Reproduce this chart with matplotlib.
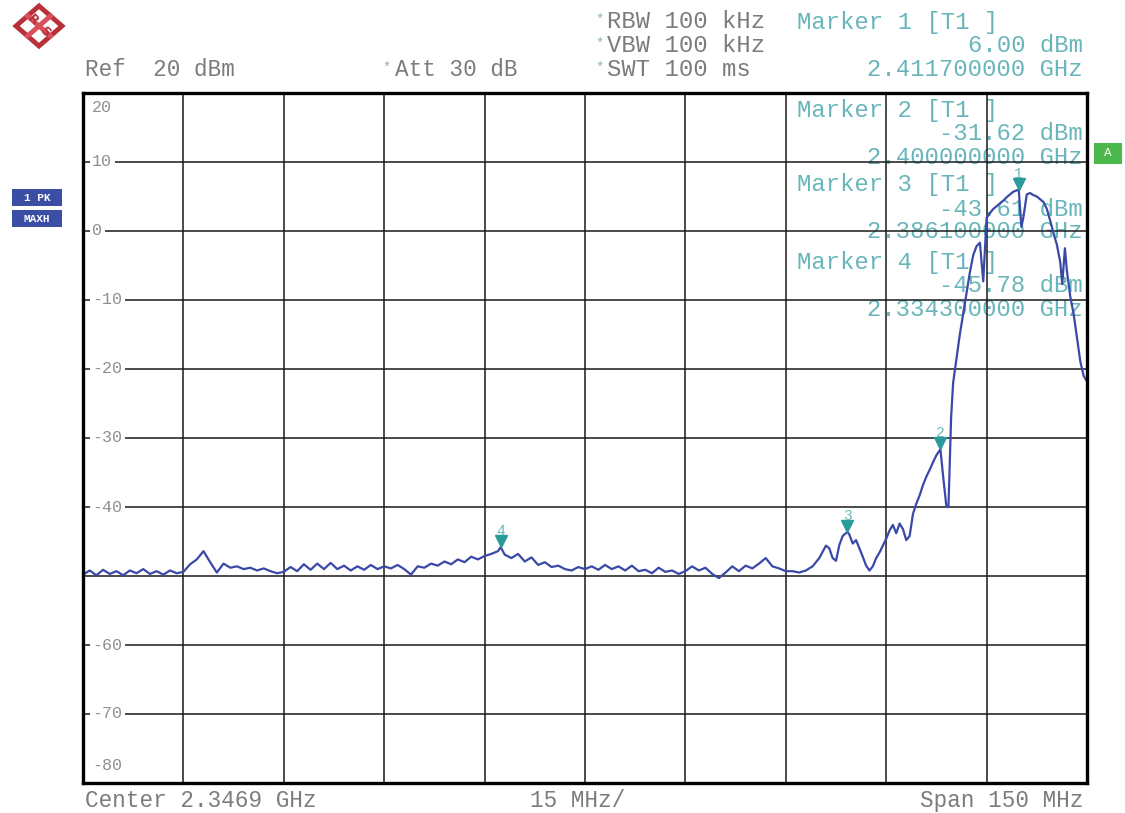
import matplotlib
matplotlib.use("Agg")
import matplotlib.pyplot as plt
import matplotlib.transforms as mtransforms
from matplotlib.patches import Rectangle, Polygon
import numpy as np

# ---------------- data ----------------
center_mhz = 2346.9
span_mhz = 150.0
ref_level = 20
y_labels = ["20", "10", "0", "-10", "-20", "-30", "-40", "-60", "-70", "-80"]
y_label_vals = [20, 10, 0, -10, -20, -30, -40, -60, -70, -80]

trace_mhz = [
    2271.9, 2272.9, 2273.9, 2274.9, 2275.9, 2276.9, 2277.9, 2278.9, 2279.9, 2280.9,
    2281.9, 2282.9, 2283.9, 2284.9, 2285.9, 2286.9, 2287.9, 2288.9, 2289.9, 2290.9,
    2291.9, 2292.9, 2293.9, 2294.9, 2295.9, 2296.9, 2297.9, 2298.9, 2299.9, 2300.9,
    2301.9, 2302.9, 2303.9, 2304.9, 2305.9, 2306.9, 2307.9, 2308.9, 2309.9, 2310.9,
    2311.9, 2312.9, 2313.9, 2314.9, 2315.9, 2316.9, 2317.9, 2318.9, 2319.9, 2320.9,
    2321.9, 2322.9, 2323.9, 2324.9, 2325.9, 2326.9, 2327.9, 2328.9, 2329.9, 2330.9,
    2331.9, 2332.9, 2333.9, 2334.3, 2334.9, 2335.9, 2336.9, 2337.9, 2338.9, 2339.9,
    2340.9, 2341.9, 2342.9, 2343.9, 2344.9, 2345.9, 2346.9, 2347.9, 2348.9, 2349.9,
    2350.9, 2351.9, 2352.9, 2353.9, 2354.9, 2355.9, 2356.9, 2357.9, 2358.9, 2359.9,
    2360.9, 2361.9, 2362.9, 2363.9, 2364.9, 2365.9, 2366.9, 2367.9, 2368.9, 2369.9,
    2370.9, 2371.9, 2372.9, 2373.9, 2374.9, 2375.9, 2376.9, 2377.9, 2378.9, 2379.9,
    2380.9, 2381.4, 2381.9, 2382.4, 2382.9, 2383.4, 2383.9, 2384.4, 2384.9, 2385.4,
    2386.1, 2386.4, 2386.9, 2387.4, 2387.9, 2388.4, 2388.9, 2389.4, 2389.9, 2390.4,
    2390.9, 2391.4, 2391.9, 2392.4, 2392.9, 2393.4, 2393.9, 2394.4, 2394.9, 2395.4,
    2395.9, 2396.4, 2396.9, 2397.4, 2397.9, 2398.4, 2398.9, 2399.4, 2400.0, 2400.4,
    2400.9, 2401.2, 2401.6, 2401.9, 2402.4, 2402.9, 2403.4, 2403.9, 2404.4, 2404.9,
    2405.4, 2405.9, 2406.4, 2406.9, 2407.4, 2407.9, 2408.4, 2408.9, 2409.4, 2409.9,
    2410.4, 2410.9, 2411.7, 2412.1, 2412.4, 2412.9, 2413.4, 2413.9, 2414.4, 2414.9,
    2415.4, 2415.9, 2416.4, 2416.9, 2417.4, 2417.9, 2418.2, 2418.6, 2418.9, 2419.4,
    2419.9, 2420.4, 2420.9, 2421.4, 2421.9,
]
trace_dbm = [
    -49.8, -49.2, -49.9, -49.1, -49.7, -49.3, -49.9, -49.2, -49.6, -49.0,
    -49.7, -49.3, -49.8, -49.2, -49.6, -49.4, -48.3, -47.6, -46.4, -48.0,
    -49.5, -48.2, -48.8, -48.6, -49.0, -48.8, -49.2, -48.9, -49.3, -49.6,
    -49.4, -48.7, -49.3, -48.3, -49.1, -48.2, -49.0, -48.1, -49.0, -48.5,
    -49.2, -48.6, -49.1, -48.4, -49.0, -48.6, -48.9, -48.4, -49.0, -49.8,
    -48.6, -48.8, -48.2, -48.5, -47.9, -48.3, -47.6, -48.0, -47.2, -47.6,
    -47.1, -46.8, -46.4, -45.8, -46.9, -47.4, -46.8, -47.9, -47.3, -48.4,
    -48.0, -48.7, -48.5, -49.0, -49.2, -48.7, -49.0, -48.6, -49.1, -48.4,
    -49.0, -48.6, -49.2, -48.5, -49.3, -49.1, -49.6, -48.8, -49.4, -49.2,
    -49.7, -49.3, -48.6, -49.2, -48.8, -49.7, -50.3, -49.5, -48.6, -49.3,
    -48.5, -48.9, -48.2, -47.4, -48.6, -48.9, -49.3, -49.3, -49.5, -49.2,
    -48.6, -48.0, -47.4, -46.5, -45.6, -46.0, -47.4, -47.8, -45.5, -44.2,
    -43.6, -44.0, -45.3, -44.8, -46.0, -47.2, -48.5, -49.2, -48.6, -47.4,
    -46.6, -45.6, -44.6, -43.4, -42.6, -43.8, -42.4, -43.2, -44.8, -44.2,
    -41.0, -39.5, -38.3, -36.8, -35.6, -34.6, -33.5, -32.5, -31.62, -35.5,
    -40.0, -40.0, -27.0, -22.0, -18.5, -15.0, -12.0, -9.0, -6.0, -3.5,
    -2.2, -1.7, -7.3, 1.9, 2.6, 3.2, 3.6, 4.0, 4.4, 4.9,
    5.3, 5.7, 6.00, 0.6, 2.0, 5.3, 5.5, 5.2, 5.0, 4.6,
    4.2, 3.2, 1.5, -0.3, -2.0, -4.5, -7.7, -2.5, -5.8, -9.5,
    -12.0, -15.5, -18.9, -21.0, -21.8,
]

marker_ids = ["1", "2", "3", "4"]
marker_mhz = [2411.7, 2400.0, 2386.1, 2334.3]
marker_dbm = [6.00, -31.62, -43.61, -45.78]
marker_freq_txt = ["2.411700000 GHz", "2.400000000 GHz", "2.386100000 GHz", "2.334300000 GHz"]

# ---------------- figure ----------------
W, H = 1125, 813
fig = plt.figure(figsize=(W / 100, H / 100), dpi=100)
fig.patch.set_facecolor("white")

L, R, T, B = 83, 1087, 93, 783
ax = fig.add_axes([L / W, 1 - B / H, (R - L) / W, (B - T) / H])
ax.set_xlim(center_mhz - span_mhz / 2, center_mhz + span_mhz / 2)
ax.set_ylim(ref_level - 100, ref_level)
ax.set_xticks(np.linspace(center_mhz - span_mhz / 2, center_mhz + span_mhz / 2, 11))
ax.set_yticks(np.arange(-80, 21, 10))
ax.tick_params(length=0, labelbottom=False, labelleft=False)
ax.grid(True, color="#1a1a1a", linewidth=1.1)
ax.set_axisbelow(False)
for s in ax.spines.values():
    s.set_linewidth(2.4)
    s.set_color("black")
    s.set_zorder(6)

MONO = "Liberation Mono"
GRAY = "#7c7c7c"
TEAL = "#68b6bb"
FS_L = 16.3   # left/bottom texts
FS_R = 17.2   # header right / marker info


def ptxt(x, y, s, color=GRAY, ha="left", size=FS_L, zorder=5, inside=False, **kw):
    if inside:
        ax.text(x / W, 1 - y / H, s, transform=fig.transFigure, color=color, ha=ha,
                va="center", fontsize=size, family=MONO, zorder=zorder, clip_on=False, **kw)
    else:
        fig.text(x / W, 1 - y / H, s, color=color, ha=ha, va="center",
                 fontsize=size, family=MONO, zorder=zorder, **kw)


# y-axis labels with white backing over the grid
blend = mtransforms.blended_transform_factory(ax.transAxes, ax.transData)
for lab, v in zip(y_labels, y_label_vals):
    dy = 0
    if v == 20:
        dy = -15
    elif v == -80:
        dy = 18
    ax.annotate(lab, xy=(0, v), xycoords=blend, xytext=(9, dy), textcoords="offset pixels",
                ha="left", va="center", fontsize=12, family=MONO, color="#8f8f8f",
                zorder=3, bbox=dict(boxstyle="square,pad=0.15", fc="white", ec="none"))

# header texts
ptxt(85, 70, "Ref  20 dBm")
ptxt(382, 68, "*", color="#8fb898", size=10)
ptxt(395, 70, "Att 30 dB")
for yy, s in zip([22, 46, 70], ["RBW 100 kHz", "VBW 100 kHz", "SWT 100 ms"]):
    ptxt(595, yy - 2, "*", color="#8fb898", size=10)
    ptxt(607, yy, s, size=FS_R)

# marker info
ptxt(797, 22, "Marker 1 [T1 ]", color=TEAL, size=FS_R)
ptxt(1083, 46, f"{marker_dbm[0]:.2f} dBm", color=TEAL, ha="right", size=FS_R)
ptxt(1083, 70, marker_freq_txt[0], color=TEAL, ha="right", size=FS_R)
block_y = [110, 185, 262]
for k, yy in enumerate(block_y, start=1):
    ptxt(797, yy, f"Marker {marker_ids[k]} [T1 ]", color=TEAL, inside=True, zorder=1, size=FS_R)
    ptxt(1083, yy + 24, f"{marker_dbm[k]:.2f} dBm", color=TEAL, ha="right", inside=True,
         zorder=1, size=FS_R)
    ptxt(1083, yy + 47, marker_freq_txt[k], color=TEAL, ha="right", inside=True, zorder=1,
         size=FS_R)

# bottom texts
ptxt(85, 800, "Center 2.3469 GHz")
ptxt(578, 800, "15 MHz/", ha="center")
ptxt(1083, 800, "Span 150 MHz", ha="right")

# trace
ax.plot(trace_mhz, trace_dbm, color="#3a49a8", linewidth=1.6, zorder=4, clip_on=True)

# markers
off = mtransforms.offset_copy(ax.transData, fig=fig, x=0, y=6, units="dots")
ax.plot(marker_mhz, marker_dbm, "v", color="#2a9a9a", markersize=9, transform=off,
        zorder=5, clip_on=False)
for mid, f, d in zip(marker_ids, marker_mhz, marker_dbm):
    ax.annotate(mid, xy=(f, d), xytext=(0, 16), textcoords="offset pixels", ha="center",
                va="center", fontsize=10.5, family=MONO, color="#6ab8b8", zorder=5)

# side boxes
fig.patches.append(Rectangle((12 / W, 1 - 206 / H), 50 / W, 17 / H, transform=fig.transFigure,
                             fc="#3a4ea3", ec="none"))
fig.patches.append(Rectangle((12 / W, 1 - 227 / H), 50 / W, 17 / H, transform=fig.transFigure,
                             fc="#3a4ea3", ec="none"))
fig.text(37 / W, 1 - 197.5 / H, "1 PK", color="white", ha="center", va="center",
         fontsize=8, family=MONO, weight="bold")
fig.text(37 / W, 1 - 218.5 / H, "MAXH", color="white", ha="center", va="center",
         fontsize=8, family=MONO, weight="bold")
fig.patches.append(Rectangle((1094 / W, 1 - 164 / H), 28 / W, 21 / H, transform=fig.transFigure,
                             fc="#4bb84b", ec="none"))
fig.text(1108 / W, 1 - 153.5 / H, "A", color="white", ha="center", va="center",
         fontsize=8, family="DejaVu Sans")

# R&S logo
cx, cy, rx, ry = 39, 26, 23, 20
pts = [(cx / W, 1 - (cy - ry) / H), ((cx + rx) / W, 1 - cy / H),
       (cx / W, 1 - (cy + ry) / H), ((cx - rx) / W, 1 - cy / H)]
fig.patches.append(Polygon(pts, closed=True, transform=fig.transFigure, fc="white",
                           ec="#b8303a", lw=3.5))
fig.lines.append(plt.Line2D([(cx - rx * 0.5) / W, (cx + rx * 0.5) / W],
                            [1 - (cy - ry * 0.5) / H, 1 - (cy + ry * 0.5) / H],
                            transform=fig.transFigure, color="#d9505a", lw=3.5))
fig.lines.append(plt.Line2D([(cx + rx * 0.5) / W, (cx - rx * 0.5) / W],
                            [1 - (cy - ry * 0.5) / H, 1 - (cy + ry * 0.5) / H],
                            transform=fig.transFigure, color="#d9505a", lw=3.5))
fig.text((cx - 6) / W, 1 - (cy - 6) / H, "R", color="#b8303a", ha="center", va="center",
         fontsize=9, weight="bold", rotation=-45)
fig.text((cx + 6) / W, 1 - (cy + 6) / H, "S", color="#b8303a", ha="center", va="center",
         fontsize=9, weight="bold", rotation=-45)

fig.savefig("out.png", dpi=100, facecolor="white")
